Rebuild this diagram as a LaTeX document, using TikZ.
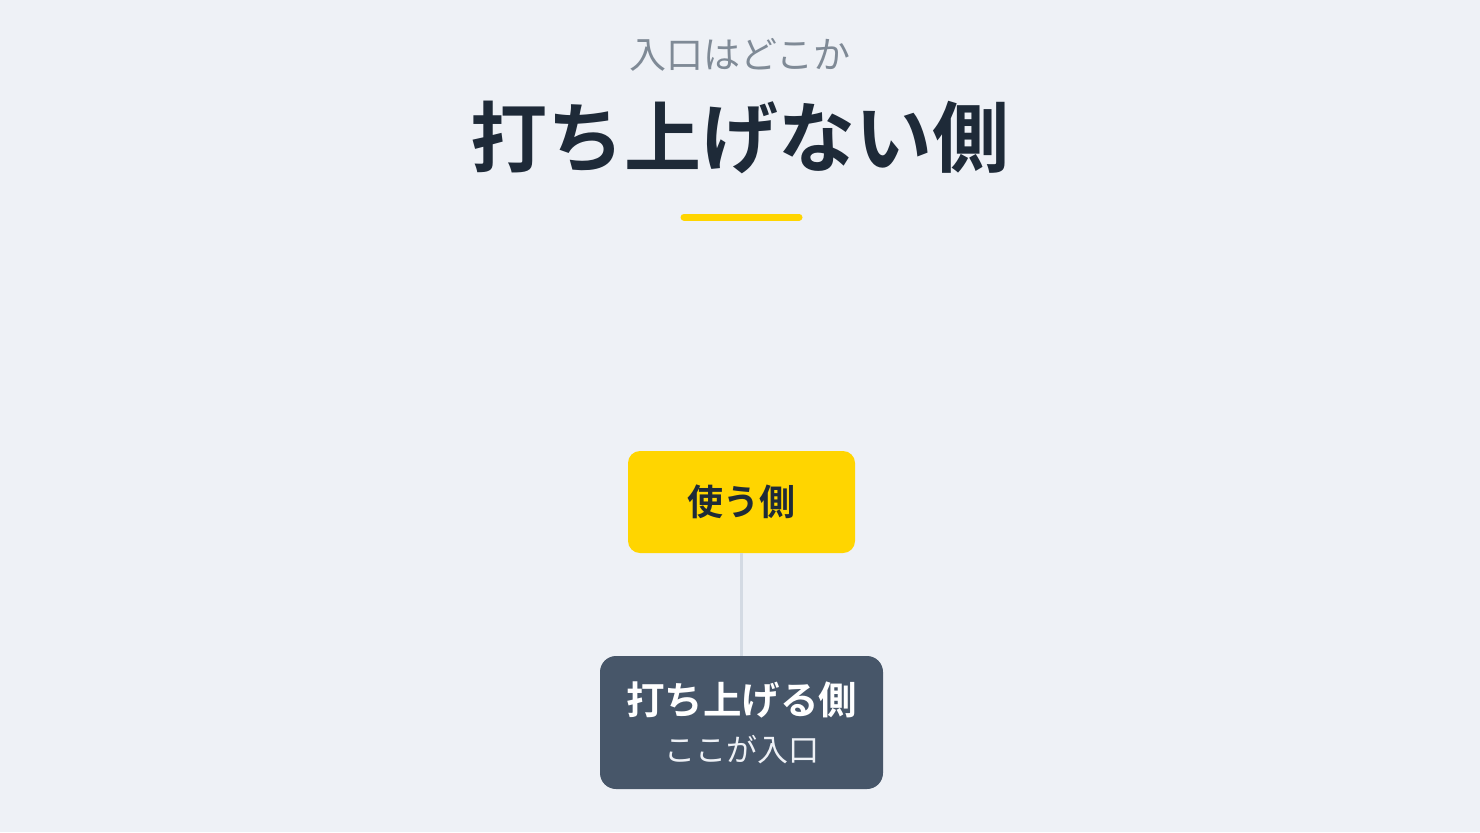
\documentclass[tikz,border=0pt]{standalone}
\usepackage{fontspec}
\newfontfamily\jpfont{Noto Sans CJK JP}[BoldFont={Noto Sans CJK JP Bold}]
\definecolor{bgc}{HTML}{EEF1F6}
\definecolor{subc}{HTML}{7F8A96}
\definecolor{titlec}{HTML}{1E2A38}
\definecolor{yel}{HTML}{FFD500}
\definecolor{slate}{HTML}{475669}
\definecolor{linec}{HTML}{D3DAE3}
\tikzset{
  subtitle/.style={font=\jpfont\fontsize{37bp}{40bp}\selectfont, text=subc, inner sep=0},
  maintitle/.style={font=\jpfont\bfseries\fontsize{77bp}{80bp}\selectfont, text=titlec, inner sep=0},
  yellowbox/.style={fill=yel, rounded corners=12bp, minimum width=227bp, minimum height=102bp, inner sep=0,
    font=\jpfont\bfseries\fontsize{36bp}{40bp}\selectfont, text=titlec},
  darkbox/.style={fill=slate, rounded corners=16bp, minimum width=283bp, minimum height=133bp, inner sep=0},
  boxhead/.style={font=\jpfont\bfseries\fontsize{38.5bp}{42bp}\selectfont, text=white, inner sep=0},
  boxsub/.style={font=\jpfont\fontsize{31bp}{34bp}\selectfont, text=bgc, inner sep=0},
  conn/.style={draw=linec, line width=3bp},
  accent/.style={draw=yel, line width=7bp, line cap=round}
}
\begin{document}
\begin{tikzpicture}[x=1bp,y=-1bp]
\fill[bgc] (0,0) rectangle (1480,832);
\useasboundingbox (0,0) rectangle (1480,832);
\node[subtitle] (sub) at (740,55) {入口はどこか};
\node[maintitle] (title) at (740,137) {打ち上げない側};
\coordinate (al) at (684,217);
\coordinate (ar) at (799,217);
\draw[accent] (al) -- (ar);
\node[yellowbox] (use) at (741.5,502) {};
\node[darkbox] (launch) at (741.5,722.5) {};
\draw[conn] (use.south) -- (launch.north);
\node[yellowbox, fill=none] (uset) at (741.5,502) {使う側};
\node[boxhead] (lh) at (741.5,700) {打ち上げる側};
\node[boxsub] (ls) at (741.5,750) {ここが入口};
\end{tikzpicture}
\end{document}
